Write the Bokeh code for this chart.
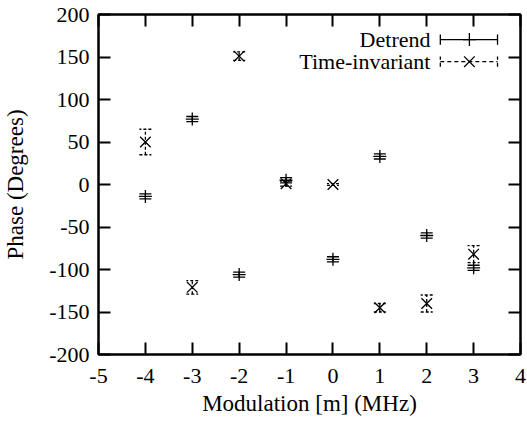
from bokeh.plotting import figure
from bokeh.models import (ColumnDataSource, Whisker, TeeHead, LinearAxis, Range1d,
                          FixedTicker, Label)
from bokeh.embed import file_html
from bokeh.resources import INLINE

# ---- data ----
detrend_x = [-4, -3, -2, -1, 0, 1, 2, 3]
detrend_y = [-14, 77, -106, 5, -88, 33, -60, -98]
detrend_err = [3, 3, 3, 3, 3, 3, 3, 3]

ti_x = [-4, -3, -2, -1, 0, 1, 2, 3]
ti_y = [50, -121, 151, 1, 0, -145, -140, -82]
ti_err = [15, 8, 5, 3, 1, 5, 10, 10]

x_ticks = [-5, -4, -3, -2, -1, 0, 1, 2, 3, 4]
y_ticks = [-200, -150, -100, -50, 0, 50, 100, 150, 200]

FONT = "Liberation Serif"
FS = "22px"
FS_LABEL = "23px"

p = figure(frame_width=422, frame_height=340,
           x_range=Range1d(-5, 4), y_range=Range1d(-200, 200),
           output_backend="svg", toolbar_location=None,
           min_border_left=90, min_border_top=14, min_border_right=7,
           min_border_bottom=58)
p.grid.visible = False
p.background_fill_color = "white"
p.outline_line_color = "black"
p.outline_line_width = 2

def style_axis(ax):
    ax.axis_line_width = 2
    ax.axis_line_color = "black"
    ax.major_tick_line_width = 2
    ax.major_tick_line_color = "black"
    ax.major_tick_in = 12
    ax.major_tick_out = 0
    ax.minor_tick_line_color = None
    ax.major_label_text_font = FONT
    ax.major_label_text_font_size = FS
    ax.major_label_text_color = "black"
    ax.axis_label_text_font = FONT
    ax.axis_label_text_font_size = FS_LABEL
    ax.axis_label_text_font_style = "normal"
    ax.axis_label_text_color = "black"

p.xaxis.ticker = FixedTicker(ticks=x_ticks)
p.yaxis.ticker = FixedTicker(ticks=y_ticks)
p.xaxis.major_label_overrides = {t: str(t) for t in x_ticks}
p.yaxis.major_label_overrides = {t: str(t) for t in y_ticks}
p.xaxis.axis_label = "Modulation [m] (MHz)"
p.yaxis.axis_label = "Phase (Degrees)"
style_axis(p.xaxis[0])
style_axis(p.yaxis[0])
p.xaxis.major_label_standoff = 14
p.xaxis.axis_label_standoff = 5
p.yaxis.major_label_standoff = 9
p.yaxis.axis_label_standoff = 18

top = LinearAxis(ticker=FixedTicker(ticks=x_ticks))
style_axis(top)
top.major_label_standoff = 0
top.major_label_overrides = {t: "" for t in x_ticks}
p.add_layout(top, "above")
right = LinearAxis(ticker=FixedTicker(ticks=y_ticks))
style_axis(right)
right.major_label_standoff = 0
right.major_label_overrides = {t: "" for t in y_ticks}
p.add_layout(right, "right")

# ---- Detrend ----
ds = ColumnDataSource(dict(x=detrend_x, y=detrend_y,
                           lo=[y - e for y, e in zip(detrend_y, detrend_err)],
                           hi=[y + e for y, e in zip(detrend_y, detrend_err)]))
p.add_layout(Whisker(source=ds, base="x", lower="lo", upper="hi",
                     line_color="black", line_width=1.3,
                     lower_head=TeeHead(size=12, line_width=1.3, line_color="black"),
                     upper_head=TeeHead(size=12, line_width=1.3, line_color="black")))
p.scatter("x", "y", source=ds, marker="cross", size=13, line_color="black",
          line_width=1.3)

# ---- Time-invariant ----
ts = ColumnDataSource(dict(x=ti_x, y=ti_y,
                           lo=[y - e for y, e in zip(ti_y, ti_err)],
                           hi=[y + e for y, e in zip(ti_y, ti_err)]))
p.add_layout(Whisker(source=ts, base="x", lower="lo", upper="hi",
                     line_color="black", line_width=1.3, line_dash="3 2",
                     lower_head=TeeHead(size=12, line_width=1.3, line_color="black", line_dash="3 2"),
                     upper_head=TeeHead(size=12, line_width=1.3, line_color="black", line_dash="3 2")))
p.scatter("x", "y", source=ts, marker="x", size=15, line_color="black",
          line_width=1.3)

# ---- legend (layout positions in data coordinates) ----
lg_text_x = 2.08
lg_x0, lg_xm, lg_x1 = 2.29, 2.91, 3.51
lg_y1, lg_y2 = 170.5, 144.5
cap = 6
for txt, yy in (("Detrend", lg_y1), ("Time-invariant", lg_y2)):
    p.add_layout(Label(x=lg_text_x, y=yy, text=txt, text_align="right",
                       text_baseline="middle", text_font=FONT,
                       text_font_size=FS, text_color="black"))
p.segment(x0=[lg_x0, lg_x0, lg_x1], y0=[lg_y1, lg_y1 - cap, lg_y1 - cap],
          x1=[lg_x1, lg_x0, lg_x1], y1=[lg_y1, lg_y1 + cap, lg_y1 + cap],
          line_color="black", line_width=1.3)
p.scatter(x=[lg_xm], y=[lg_y1], marker="cross", size=13, line_color="black",
          line_width=1.3)
p.segment(x0=[lg_x0, lg_x0, lg_x1], y0=[lg_y2, lg_y2 - cap, lg_y2 - cap],
          x1=[lg_x1, lg_x0, lg_x1], y1=[lg_y2, lg_y2 + cap, lg_y2 + cap],
          line_color="black", line_width=1.3, line_dash="4 3")
p.scatter(x=[lg_xm], y=[lg_y2], marker="x", size=15, line_color="black",
          line_width=1.3, fill_color="white")

open("out.html", "w").write(file_html(p, INLINE))
